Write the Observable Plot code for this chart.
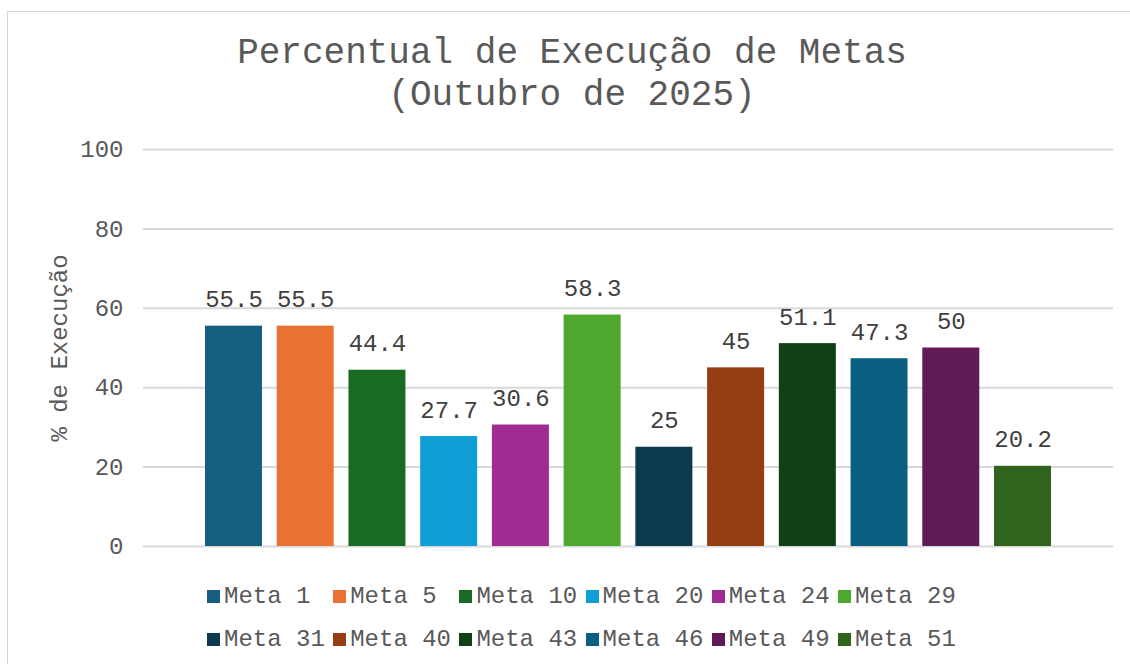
<!DOCTYPE html>
<html>
<head>
<meta charset="utf-8">
<script src="https://cdn.jsdelivr.net/npm/d3@7"></script>
<script src="https://cdn.jsdelivr.net/npm/@observablehq/plot@0.6"></script>
<style>
  html, body { margin: 0; padding: 0; background: #fff; }
  #wrap { position: relative; width: 1130px; height: 664px; overflow: hidden; font-family: "Liberation Mono", monospace; color: #595959; }
  #frame { position: absolute; left: 7px; top: 11px; width: 1200px; height: 800px; border-top: 1px solid #d6d6d6; border-left: 1px solid #d6d6d6; pointer-events: none; }
  #title { position: absolute; left: 0; top: 32.7px; width: 1144px; text-align: center; font-size: 36px; line-height: 42px; color: #595959; white-space: pre; }
  #chart { position: absolute; left: 0; top: 0; }
  .lg { position: absolute; height: 24px; white-space: pre; font-size: 24px; line-height: 24px; color: #595959; }
  .sw { position: absolute; width: 13px; height: 13px; }
</style>
</head>
<body>
<div id="wrap">
  <div id="chart"></div>
  <div id="title"></div>
  <div id="legend"></div>
  <div id="frame"></div>
</div>
<script>
const titleLines = ["Percentual de Execução de Metas", "(Outubro de 2025)"];
const yLabel = "% de Execução";
const metas = ["Meta 1", "Meta 5", "Meta 10", "Meta 20", "Meta 24", "Meta 29", "Meta 31", "Meta 40", "Meta 43", "Meta 46", "Meta 49", "Meta 51"];
const values = [55.5, 55.5, 44.4, 27.7, 30.6, 58.3, 25, 45, 51.1, 47.3, 50, 20.2];
const colors = ["#156082", "#E97132", "#196B24", "#0F9ED5", "#A02B93", "#4EA72E", "#0D3A4F", "#963E11", "#104016", "#0A5F80", "#601A58", "#2F641C"];
const yTicks = [0, 20, 40, 60, 80, 100];

const data = metas.map((m, i) => ({meta: m, value: values[i]}));

document.getElementById("title").textContent = titleLines.join("\n");

const plot = Plot.plot({
  width: 1130,
  height: 570,
  marginTop: 149,
  marginBottom: 24,
  marginLeft: 143,
  marginRight: 17,
  style: {fontFamily: "Liberation Mono", fontSize: "24px", color: "#595959", background: "transparent"},
  x: {domain: metas, paddingInner: 0.2054, paddingOuter: 0.864, round: false, axis: null},
  y: {domain: [0, 100], ticks: yTicks},
  color: {domain: metas, range: colors},
  marks: [
    Plot.ruleY(yTicks, {stroke: "#d9d9d9", strokeWidth: 2}),
    Plot.axisY({ticks: yTicks, tickSize: 0, tickPadding: 20, fontSize: 24, fill: "#595959",
      label: yLabel, labelAnchor: "center", labelOffset: 94, labelArrow: "none"}),
    Plot.barY(data, {x: "meta", y: "value", fill: "meta"}),
    Plot.text(data, {x: "meta", y: "value", text: d => String(d.value), lineAnchor: "bottom", dy: -19, fontSize: 24, fill: "#404040"})
  ]
});
document.getElementById("chart").appendChild(plot);

// legend
const lg = document.getElementById("legend");
metas.forEach((m, i) => {
  const col = i % 6, row = Math.floor(i / 6);
  const left = 207 + col * 126.2;
  const top = 590 + row * 42.7;
  const sw = document.createElement("div");
  sw.className = "sw";
  sw.style.left = left + "px";
  sw.style.top = top + "px";
  sw.style.background = colors[i];
  lg.appendChild(sw);
  const t = document.createElement("div");
  t.className = "lg";
  t.style.left = (left + 17) + "px";
  t.style.top = (top - 5) + "px";
  t.textContent = m;
  lg.appendChild(t);
});
</script>
</body>
</html>
